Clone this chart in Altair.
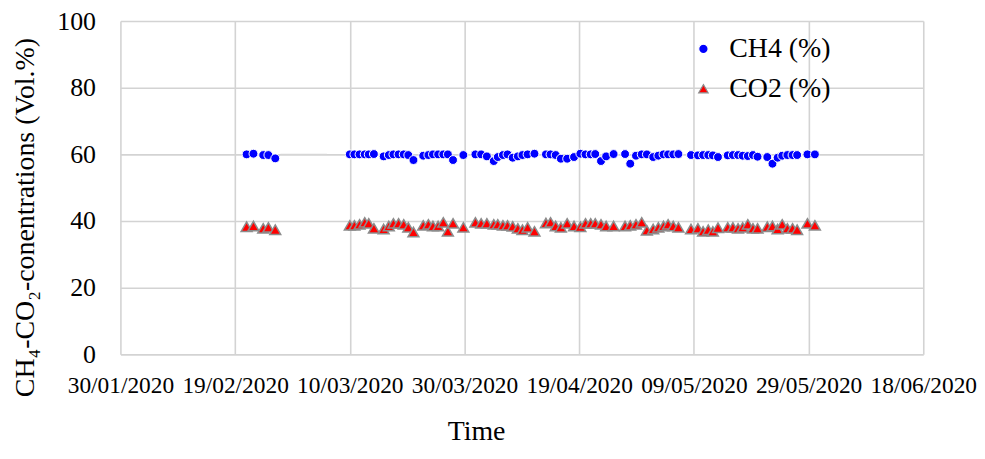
import altair as alt
import pandas as pd

FONT = "Liberation Serif"

# sampling days, counted in days after 30/01/2020
days = [
    22.0, 23.2, 24.9, 25.8, 27.0,
    40.0, 40.8, 41.7, 42.6, 43.3, 44.2, 45.9, 46.8, 47.6, 48.5, 49.4, 50.2, 51.1, 52.8, 53.7, 54.5, 55.4, 56.3, 57.1, 58.0, 59.8,
    61.9, 62.9, 63.9, 65.1, 65.8, 66.7, 67.5, 68.4, 69.3, 70.1, 71.0, 72.2, 74.2, 75.0, 75.9, 76.8, 77.9, 79.1, 80.2,
    81.1, 82.0, 82.8, 83.8, 84.7, 86.0, 88.0, 88.9, 89.9, 90.9, 91.8, 92.9, 93.8, 94.7, 95.5, 96.4, 97.3, 99.5,
    100.7, 101.6, 102.5, 103.3, 104.2, 105.9, 106.8, 107.7, 108.5, 109.4, 110.3, 111.1, 112.8, 113.7, 114.6, 115.4, 116.3, 117.2, 118.0, 119.8, 121.1,
]

ch4 = [
    60.0, 60.2, 59.8, 59.8, 58.8,
    60.0, 60.0, 60.0, 60.0, 60.0, 60.1, 59.4, 59.8, 60.0, 60.0, 60.0, 59.8, 58.3, 59.6, 59.8, 60.0, 60.0, 60.0, 60.0, 58.3, 59.8,
    60.0, 60.0, 59.4, 58.0, 59.2, 59.8, 60.0, 59.0, 59.4, 59.8, 60.0, 60.2, 60.0, 60.0, 59.8, 58.7, 58.7, 59.2, 60.2,
    60.0, 60.0, 60.1, 58.0, 59.4, 60.1, 60.1, 57.2, 59.6, 60.0, 60.0, 59.2, 59.6, 60.0, 60.0, 60.0, 60.1, 59.8,
    59.7, 59.8, 59.8, 59.7, 59.2, 59.7, 59.8, 59.8, 59.6, 59.5, 59.8, 59.3, 59.2, 57.2, 59.0, 59.6, 59.8, 59.8, 59.8, 60.0, 60.0,
]

co2 = [
    38.3, 38.5, 37.8, 38.1, 37.4,
    38.7, 38.7, 39.0, 39.6, 39.3, 37.8, 37.6, 38.5, 39.3, 39.3, 39.0, 38.1, 36.7, 38.7, 39.0, 38.5, 38.5, 39.6, 36.9, 39.3, 38.1,
    39.6, 39.3, 39.3, 39.0, 39.0, 38.7, 38.7, 38.4, 37.8, 37.4, 38.1, 36.9, 39.4, 39.6, 38.5, 38.1, 39.3, 38.5, 38.3,
    39.3, 39.3, 39.3, 39.0, 38.5, 38.5, 38.5, 38.7, 39.0, 39.6, 37.2, 37.6, 38.1, 38.5, 39.0, 38.5, 38.1, 37.6,
    37.8, 36.9, 37.4, 36.9, 38.0, 38.1, 38.1, 37.8, 38.1, 39.0, 37.8, 37.8, 38.3, 38.5, 37.6, 39.0, 37.8, 37.8, 37.4, 39.3, 38.7,
]

series_names = ["CH4 (%)", "CO2 (%)"]
tick_dates = ["2020-01-30", "2020-02-19", "2020-03-10", "2020-03-30",
              "2020-04-19", "2020-05-09", "2020-05-29", "2020-06-18"]
y_ticks = [0, 20, 40, 60, 80, 100]

# faint grey trace after the February group
trace_days = [27.9, 36.0]
trace_vals = [60.0, 60.0]

assert len(days) == len(ch4) == len(co2)

base = pd.Timestamp("2020-01-30")
dates = [base + pd.Timedelta(days=d) for d in days]
df = pd.DataFrame({
    "date": dates + dates,
    "value": ch4 + co2,
    "series": [series_names[0]] * len(days) + [series_names[1]] * len(days),
})
df_trace = pd.DataFrame({
    "date": [base + pd.Timedelta(days=d) for d in trace_days],
    "value": trace_vals,
})


def dt(s):
    t = pd.Timestamp(s)
    return alt.DateTime(year=t.year, month=t.month, date=t.day)


GRID = "#d3d3d3"

x_enc = alt.X(
    "date:T",
    scale=alt.Scale(domain=[dt(tick_dates[0]), dt(tick_dates[-1])], nice=False),
    axis=alt.Axis(
        values=[dt(s) for s in tick_dates],
        format="%d/%m/%Y",
        labelFont=FONT, labelFontSize=23.5, labelColor="#000000",
        labelPadding=38, labelBaseline="alphabetic",
        labelOverlap=False, labelFlush=False,
        ticks=False, tickSize=0, domain=False,
        grid=True, gridColor=GRID, gridWidth=1.6,
        title="Time", titleFont=FONT, titleFontSize=28, titleFontWeight="normal",
        titleColor="#000000", titleX=357.5, titleY=86,
        titleAlign="center", titleBaseline="alphabetic",
    ),
)

y_enc = alt.Y(
    "value:Q",
    scale=alt.Scale(domain=[0, 100], nice=False),
    axis=alt.Axis(
        values=y_ticks,
        labelFont=FONT, labelFontSize=26, labelColor="#000000",
        labelPadding=25,
        ticks=False, tickSize=0, domain=False,
        grid=True, gridColor=GRID, gridWidth=1.6,
        title="CH₄-CO₂-conentrations (Vol.%)",
        titleFont=FONT, titleFontSize=28, titleFontWeight="normal",
        titleColor="#000000", titleX=-95, titleY=197, titleAngle=270,
        titleAlign="center", titleBaseline="middle",
    ),
)

leg = alt.Legend(
    title=None, orient="none", legendX=572, legendY=14,
    labelFont=FONT, labelFontSize=28, labelColor="#000000",
    symbolSize=90, symbolStrokeWidth=1.2, symbolOpacity=1,
    labelOffset=12, rowPadding=12, padding=0,
)

TRI = "M0,-0.87L1,0.87L-1,0.87Z"

fill_enc = alt.Fill("series:N", scale=alt.Scale(domain=series_names, range=["#0000ff", "#ff0000"]), legend=leg)
stroke_enc = alt.Stroke("series:N", scale=alt.Scale(domain=series_names, range=["#ffffff", "#8c8c8c"]), legend=leg)
shape_enc = alt.Shape("series:N", scale=alt.Scale(domain=series_names, range=["circle", TRI]), legend=leg)

trace = alt.Chart(df_trace).mark_line(color="#d6d6d6", strokeWidth=1.5).encode(x=x_enc, y=y_enc)

ch4_layer = alt.Chart(df).transform_filter(
    alt.datum.series == series_names[0]
).mark_point(filled=True, opacity=1, size=80, strokeWidth=1).encode(
    x=x_enc, y=y_enc, fill=fill_enc, stroke=stroke_enc, shape=shape_enc
)

co2_layer = alt.Chart(df).transform_filter(
    alt.datum.series == series_names[1]
).mark_point(filled=True, opacity=1, size=120, strokeWidth=1.5).encode(
    x=x_enc, y=y_enc, fill=fill_enc, stroke=stroke_enc, shape=shape_enc
)

chart = alt.layer(trace, ch4_layer, co2_layer).properties(
    width=807,
    height=335,
    autosize=alt.AutoSizeParams(type="none"),
    padding={"left": 113, "top": 12, "right": 54, "bottom": 92},
    background="#ffffff",
).configure(
    font=FONT
).configure_axis(
    labelFont=FONT, titleFont=FONT
).configure_legend(
    labelFont=FONT
).configure_view(strokeWidth=0)

chart.save("out.html", embed_options={"renderer": "svg", "actions": False})
